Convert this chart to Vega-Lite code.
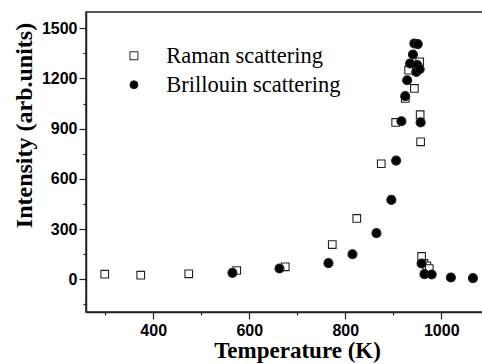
{
  "$schema": "https://vega.github.io/schema/vega-lite/v6.json",
  "width": 398,
  "height": 300,
  "autosize": {"type": "none"},
  "padding": {"left": 86, "top": 12, "right": 0, "bottom": 52},
  "background": "white",
  "config": {
    "view": {"stroke": "#222", "strokeWidth": 1.5},
    "axis": {
      "domainColor": "#222", "domainWidth": 1.5,
      "tickColor": "#222", "tickWidth": 1.2,
      "grid": false,
      "labelFont": "Liberation Sans", "labelFontWeight": "bold", "labelFontSize": 16, "labelColor": "black",
      "titleFont": "Liberation Serif", "titleFontWeight": "bold", "titleFontSize": 23, "titleColor": "black"
    },
    "legend": {
      "padding": 0, "rowPadding": 6, "labelOffset": 21, "labelLimit": 0,
      "labelFont": "Liberation Serif", "labelFontSize": 22.5, "labelColor": "black",
      "symbolSize": 64, "symbolStrokeWidth": 1
    }
  },
  "data": {
    "values": [
      {"series": "Raman scattering", "T": 299, "I": 30},
      {"series": "Raman scattering", "T": 374, "I": 24},
      {"series": "Raman scattering", "T": 474, "I": 32},
      {"series": "Raman scattering", "T": 574, "I": 52},
      {"series": "Raman scattering", "T": 675, "I": 74},
      {"series": "Raman scattering", "T": 773, "I": 207},
      {"series": "Raman scattering", "T": 824, "I": 363},
      {"series": "Raman scattering", "T": 875, "I": 690},
      {"series": "Raman scattering", "T": 905, "I": 937},
      {"series": "Raman scattering", "T": 925, "I": 1080},
      {"series": "Raman scattering", "T": 932, "I": 1249},
      {"series": "Raman scattering", "T": 944, "I": 1140},
      {"series": "Raman scattering", "T": 955, "I": 1299},
      {"series": "Raman scattering", "T": 956, "I": 983},
      {"series": "Raman scattering", "T": 957, "I": 821},
      {"series": "Raman scattering", "T": 959, "I": 136},
      {"series": "Raman scattering", "T": 964, "I": 94},
      {"series": "Raman scattering", "T": 970, "I": 80},
      {"series": "Raman scattering", "T": 975, "I": 64},
      {"series": "Brillouin scattering", "T": 565, "I": 38},
      {"series": "Brillouin scattering", "T": 663, "I": 64},
      {"series": "Brillouin scattering", "T": 765, "I": 96},
      {"series": "Brillouin scattering", "T": 815, "I": 149},
      {"series": "Brillouin scattering", "T": 865, "I": 275},
      {"series": "Brillouin scattering", "T": 896, "I": 474},
      {"series": "Brillouin scattering", "T": 906, "I": 709},
      {"series": "Brillouin scattering", "T": 917, "I": 944},
      {"series": "Brillouin scattering", "T": 925, "I": 1094},
      {"series": "Brillouin scattering", "T": 929, "I": 1189},
      {"series": "Brillouin scattering", "T": 935, "I": 1289},
      {"series": "Brillouin scattering", "T": 941, "I": 1343},
      {"series": "Brillouin scattering", "T": 944, "I": 1409},
      {"series": "Brillouin scattering", "T": 951, "I": 1405},
      {"series": "Brillouin scattering", "T": 950, "I": 1280},
      {"series": "Brillouin scattering", "T": 948, "I": 1239},
      {"series": "Brillouin scattering", "T": 955, "I": 1255},
      {"series": "Brillouin scattering", "T": 957, "I": 937},
      {"series": "Brillouin scattering", "T": 959, "I": 94},
      {"series": "Brillouin scattering", "T": 965, "I": 30},
      {"series": "Brillouin scattering", "T": 980, "I": 28},
      {"series": "Brillouin scattering", "T": 1020, "I": 10},
      {"series": "Brillouin scattering", "T": 1066, "I": 6}
    ]
  },
  "encoding": {
    "x": {
      "field": "T", "type": "quantitative",
      "scale": {"domain": [260, 1089], "nice": false, "zero": false},
      "axis": {
        "title": "Temperature (K)", "format": "d",
        "values": [300, 400, 500, 600, 700, 800, 900, 1000],
        "labelExpr": "datum.value % 200 == 0 ? datum.label : ''",
        "tickSize": {"condition": {"test": "datum.value % 200 != 0", "value": 3}, "value": 7},
        "labelPadding": 3,
        "titleX": 211, "titleY": 45, "titleBaseline": "alphabetic", "titleAnchor": "middle", "titleAlign": "center"
      }
    },
    "y": {
      "field": "I", "type": "quantitative",
      "scale": {"domain": [-196, 1597], "nice": false, "zero": false},
      "axis": {
        "title": "Intensity (arb.units)", "format": "d", "titleFontSize": 24,
        "values": [-150, 0, 150, 300, 450, 600, 750, 900, 1050, 1200, 1350, 1500],
        "labelExpr": "datum.value % 300 == 0 ? datum.label : ''",
        "tickSize": {"condition": {"test": "datum.value % 300 != 0", "value": 3}, "value": 7},
        "labelPadding": 2,
        "titleX": -55, "titleY": 113, "titleBaseline": "alphabetic", "titleAlign": "center"
      }
    },
    "shape": {
      "field": "series", "type": "nominal",
      "scale": {"domain": ["Raman scattering", "Brillouin scattering"], "range": ["square", "circle"]},
      "legend": {"title": null, "orient": "none", "legendX": 36.7, "legendY": 32.5}
    },
    "fill": {
      "field": "series", "type": "nominal",
      "scale": {"domain": ["Raman scattering", "Brillouin scattering"], "range": ["white", "black"]},
      "legend": {"title": null, "orient": "none", "legendX": 36.7, "legendY": 32.5}
    },
    "stroke": {
      "field": "series", "type": "nominal",
      "scale": {"domain": ["Raman scattering", "Brillouin scattering"], "range": ["#222", "#222"]},
      "legend": {"title": null, "orient": "none", "legendX": 36.7, "legendY": 32.5}
    }
  },
  "layer": [
    {
      "transform": [{"filter": "datum.series == 'Raman scattering'"}],
      "mark": {"type": "point", "filled": true, "size": 58, "strokeWidth": 1.1, "opacity": 1}
    },
    {
      "transform": [{"filter": "datum.series == 'Brillouin scattering'"}],
      "mark": {"type": "point", "filled": true, "size": 82, "strokeWidth": 1.1, "opacity": 1}
    }
  ]
}
